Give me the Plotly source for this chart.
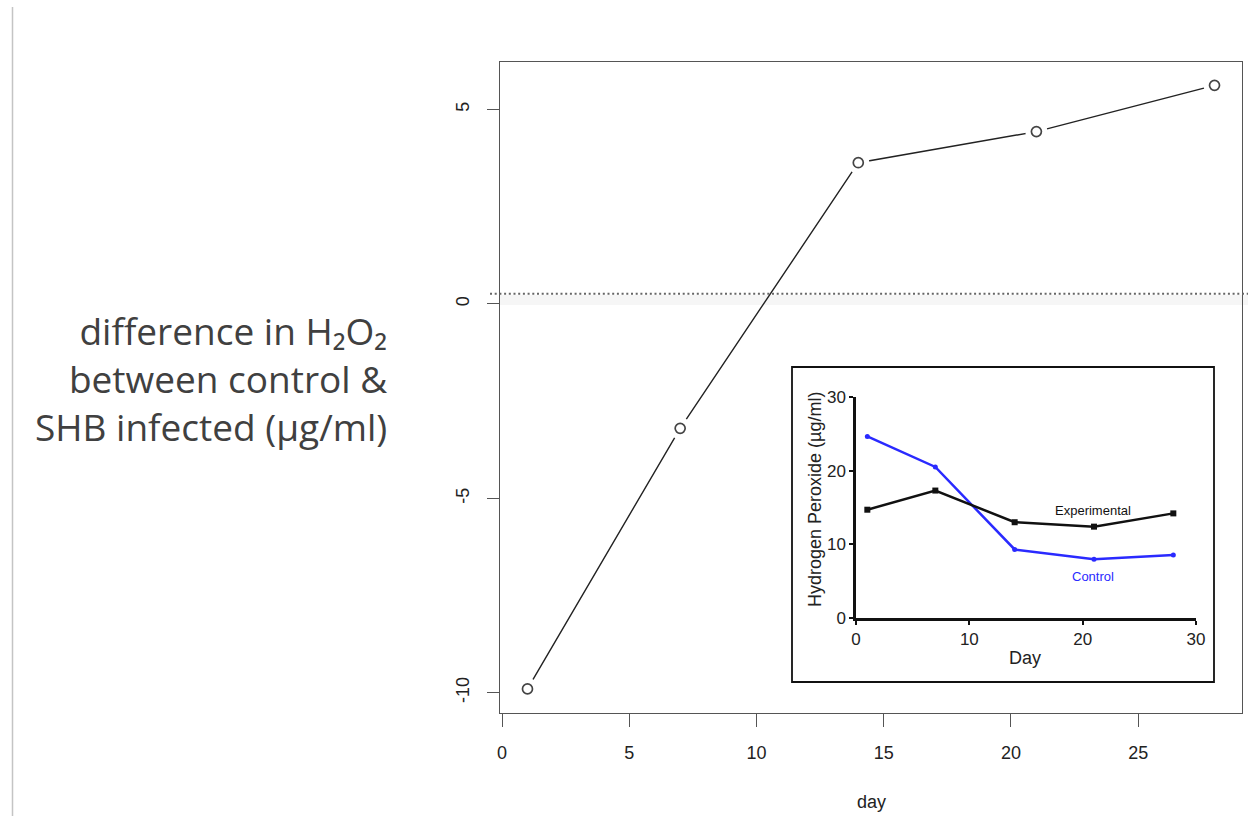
import plotly.graph_objects as go

W, H = 1248, 816

# Main chart data
days = [1, 7, 14, 21, 28]
diff = [-9.9, -3.2, 3.63, 4.43, 5.62]
ref_line = 0.26
x_ticks = [0, 5, 10, 15, 20, 25]
y_ticks = [-10, -5, 0, 5]
y_tick_labels = ["-10", "-5", "0", "5"]

# Inset data
inset_days = [1, 7, 14, 21, 28]
control = [24.65, 20.5, 9.3, 7.96, 8.55]
experimental = [14.7, 17.3, 13.0, 12.4, 14.2]
inset_ticks = [0, 10, 20, 30]

def px(x):
    return x / W

def py(y):
    return 1 - y / H

fig = go.Figure()

# main line
fig.add_trace(go.Scatter(x=days, y=diff, mode="lines",
                         line=dict(color="#222222", width=1.4),
                         xaxis="x", yaxis="y", hoverinfo="skip"))
# white gap around points (R type="b")
fig.add_trace(go.Scatter(x=days, y=diff, mode="markers",
                         marker=dict(symbol="circle", size=22, color="white",
                                     line=dict(width=0)),
                         xaxis="x", yaxis="y", hoverinfo="skip"))
fig.add_trace(go.Scatter(x=days, y=diff, mode="markers",
                         marker=dict(symbol="circle-open", size=10, color="#444444",
                                     line=dict(width=1.7)),
                         xaxis="x", yaxis="y"))

# inset lines
fig.add_trace(go.Scatter(x=inset_days, y=control, mode="lines+markers",
                         line=dict(color="#2a2aff", width=2.5),
                         marker=dict(symbol="circle", size=5, color="#2a2aff"),
                         xaxis="x2", yaxis="y2", cliponaxis=False))
fig.add_trace(go.Scatter(x=inset_days, y=experimental, mode="lines+markers",
                         line=dict(color="#111111", width=2.5),
                         marker=dict(symbol="square", size=6, color="#111111"),
                         xaxis="x2", yaxis="y2", cliponaxis=False))

axis_common = dict(showgrid=False, zeroline=False, showline=True, automargin=False)
tick_font_main = dict(family="Liberation Sans, Arial", size=18, color="#222222")
tick_font_inset = dict(family="Liberation Sans, Arial", size=17, color="#222222")

fig.update_layout(
    width=W, height=H,
    margin=dict(l=0, r=0, t=0, b=0, autoexpand=False),
    paper_bgcolor="white", plot_bgcolor="rgba(0,0,0,0)",
    showlegend=False,
    xaxis=dict(domain=[px(500), px(1242)], range=[-0.08, 29.08],
               tickvals=x_ticks, ticks="outside", ticklen=13, tickwidth=1.3,
               tickcolor="#555555", linecolor="#555555", linewidth=1.3,
               mirror=True, tickfont=tick_font_main,
               ticklabelstandoff=10, anchor="y", **axis_common),
    yaxis=dict(domain=[py(713), py(62)], range=[-10.52, 6.22],
               tickvals=y_ticks, ticktext=y_tick_labels,
               ticks="outside", ticklen=12, tickwidth=1.3,
               tickcolor="#555555", linecolor="#555555", linewidth=1.3,
               mirror=True, tickangle=-90, tickfont=tick_font_main,
               ticklabelstandoff=11, anchor="x", **axis_common),
    xaxis2=dict(domain=[px(856), px(1196)], range=[0, 30],
                tickvals=inset_ticks, ticks="outside", ticklen=4, tickwidth=2,
                tickcolor="#111111", linecolor="#111111", linewidth=2.5,
                tickfont=tick_font_inset, ticklabelstandoff=0, anchor="y2", **axis_common),
    yaxis2=dict(domain=[py(618), py(397)], range=[0, 30],
                tickvals=inset_ticks, ticks="outside", ticklen=4, tickwidth=2,
                tickcolor="#111111", linecolor="#111111", linewidth=2.5,
                tickfont=tick_font_inset, ticklabelstandoff=0, anchor="x2", **axis_common),
)

shapes = [
    # slide border line at left
    dict(type="line", xref="paper", yref="paper", x0=px(12.5), x1=px(12.5),
         y0=0, y1=py(7), line=dict(color="#c4c4c4", width=1.5)),
    # faint shadow under reference line
    dict(type="rect", xref="paper", yref="paper", x0=px(500), x1=1,
         y0=py(305), y1=py(295), fillcolor="rgba(0,0,0,0.035)", line=dict(width=0),
         layer="below"),
    # dotted reference line
    dict(type="line", xref="paper", yref="y", x0=px(490), x1=1,
         y0=ref_line, y1=ref_line, line=dict(color="#666666", width=2, dash="2px,2.7px")),
    # inset frame
    dict(type="rect", xref="paper", yref="paper", x0=px(792), x1=px(1214),
         y0=py(682), y1=py(367), line=dict(color="#111111", width=1.8)),
]
fig.update_layout(shapes=shapes)

left_font = dict(family="Open Sans, Lato, sans-serif", size=37, color="#404040")
left_text = ("difference in H₂O₂<br>"
             "between control &amp;<br>"
             "SHB infected (µg/ml)")

annotations = [
    dict(text=left_text, xref="paper", yref="paper", x=px(389), y=py(378),
         xanchor="right", yanchor="middle", align="right", showarrow=False,
         font=left_font),
    dict(text="day", xref="paper", yref="paper", x=px(871), y=py(802),
         font=dict(family="Liberation Sans, Arial", size=18, color="#222222")),
    dict(text="Hydrogen Peroxide (µg/ml)", xref="paper", yref="paper", x=px(815), y=py(500),
         textangle=-90, font=dict(family="Liberation Sans, Arial", size=18, color="#222222")),
    dict(text="Day", xref="paper", yref="paper", x=px(1025), y=py(658),
         font=dict(family="Liberation Sans, Arial", size=18, color="#222222")),
    dict(text="Experimental", xref="x2", yref="y2", x=20.9, y=14.65,
         font=dict(family="Liberation Sans, Arial", size=13, color="#111111")),
    dict(text="Control", xref="x2", yref="y2", x=20.9, y=5.7,
         font=dict(family="Liberation Sans, Arial", size=13, color="#2a2aff")),
]
for a in annotations[1:]:
    a.update(showarrow=False, xanchor="center", yanchor="middle")
fig.update_layout(annotations=annotations)

fig.write_html("out.html",
               post_script="document.body.style.margin='0';document.body.style.overflow='hidden';")
